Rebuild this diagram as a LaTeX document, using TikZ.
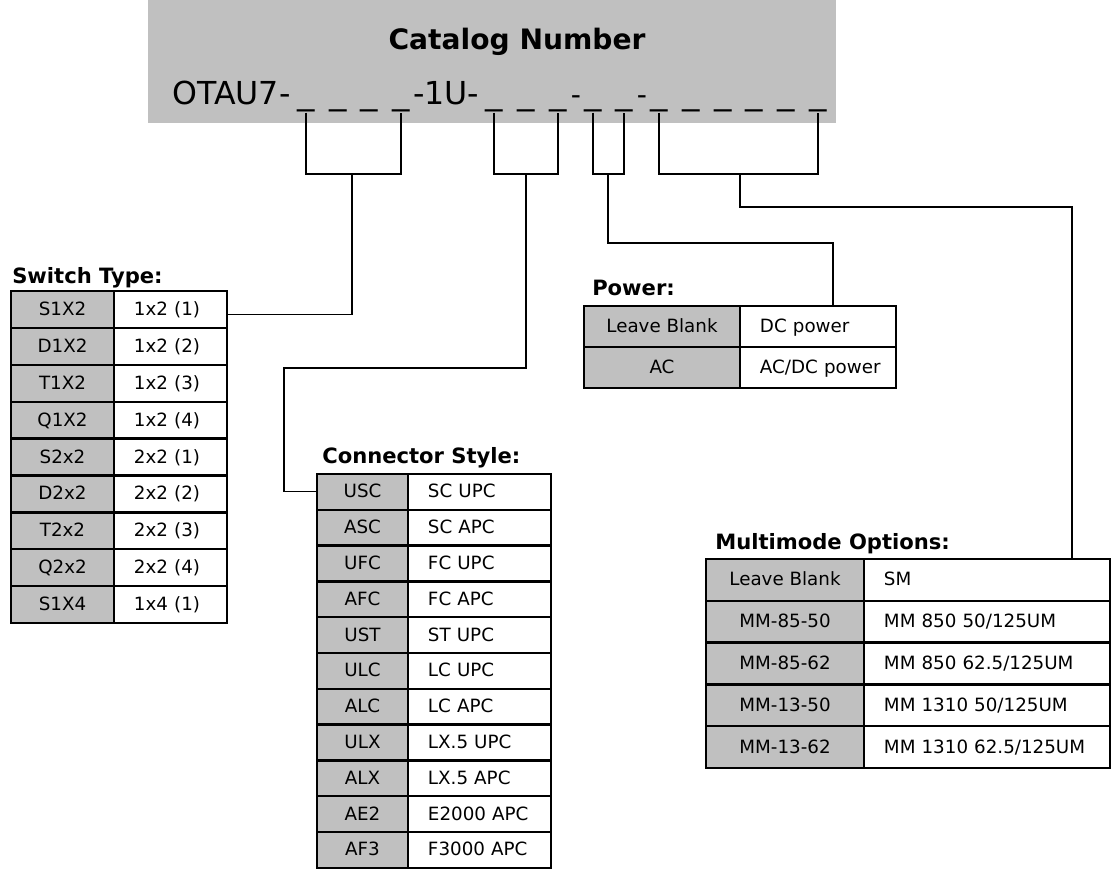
\documentclass[tikz,border=0pt]{standalone}
\usepackage{fontspec}
\usepackage{graphicx}
\setmainfont{DejaVu Sans}
\definecolor{silver}{HTML}{C0C0C0}
\newcommand{\cellfont}{\fontsize{13}{15}\selectfont}
\newcommand{\headfont}{\fontsize{15}{18}\selectfont\bfseries}
\newcommand{\titlefont}{\fontsize{20}{24}\selectfont\bfseries}
\newcommand{\catfont}{\fontsize{22.5}{27}\selectfont}
\newcommand{\dashfont}{\fontsize{20}{24}\selectfont}
\newcommand{\blank}{\scalebox{1.1}[1]{\_}}

\begin{document}
\begin{tikzpicture}[x=0.025cm, y=-0.025cm,
  tbl/.style={draw, line width=1.6pt, inner ysep=0pt, text height=8.5pt, text depth=0pt, font=\cellfont},
  graycell/.style={tbl, fill=silver, inner xsep=0pt},
  whitecell/.style={tbl, fill=white, inner xsep=0.5cm, align=left},
  hdr/.style={anchor=base west, inner sep=0pt, font=\headfont},
  uscore/.style={anchor=base, inner sep=0pt, font=\catfont},
  wire/.style={line width=0.8pt}]

\useasboundingbox (0,0) rectangle (1112,880);

% Catalog number banner
\fill[silver] (148,0) rectangle (836,123);
\node[font=\titlefont, anchor=base] (title) at (517,50) {Catalog Number};
\node[uscore, anchor=base west] (pre) at (172,105) {OTAU7-};
\node[uscore, anchor=base west] (mid) at (413,105) {-1U-};
\node[uscore, font=\dashfont] (h1) at (576,105) {-};
\node[uscore, font=\dashfont] (h2) at (642,105) {-};

% blanks of the number
\foreach \x [count=\i] in {306,338,369,401} \node[uscore] (u\i) at (\x,105) {\blank};
\foreach \x [count=\i] in {494,526,558} \node[uscore] (v\i) at (\x,105) {\blank};
\foreach \x [count=\i] in {593,624} \node[uscore] (p\i) at (\x,105) {\blank};
\foreach \x [count=\i] in {659,691,723,754,786,818} \node[uscore] (m\i) at (\x,105) {\blank};

% Switch Type
\node[hdr] (swhdr) at (12,283) {Switch Type:};
\foreach \a/\b [count=\i] in {S1X2/1x2 (1), D1X2/1x2 (2), T1X2/1x2 (3), Q1X2/1x2 (4),
    S2x2/2x2 (1), D2x2/2x2 (2), T2x2/2x2 (3), Q2x2/2x2 (4), S1X4/1x4 (1)} {
  \node[graycell, minimum width=2.575cm, minimum height=0.9225cm] (swg\i) at (62.5,{291+36.9*(\i-0.5)}) {\a};
  \node[whitecell, text width=1.825cm, minimum height=0.9225cm] (sww\i) at (170.5,{291+36.9*(\i-0.5)}) {\mbox{\b}};
}

% Connector Style
\node[hdr] (cshdr) at (322,463) {Connector Style:};
\foreach \a/\b [count=\i] in {USC/SC UPC, ASC/SC APC, UFC/FC UPC, AFC/FC APC, UST/ST UPC,
    ULC/LC UPC, ALC/LC APC, ULX/LX.5 UPC, ALX/LX.5 APC, AE2/E2000 APC, AF3/F3000 APC} {
  \node[graycell, minimum width=2.275cm, minimum height=0.895cm] (cg\i) at (362.5,{474+35.8*(\i-0.5)}) {\a};
  \node[whitecell, text width=2.575cm, minimum height=0.895cm] (cw\i) at (479.5,{474+35.8*(\i-0.5)}) {\mbox{\b}};
}

% Power
\node[hdr] (pwhdr) at (592,295) {Power:};
\foreach \a/\b [count=\i] in {Leave Blank/DC power, AC/{AC/DC power}} {
  \node[graycell, minimum width=3.9cm, minimum height=1.025cm] (pg\i) at (662,{306+41*(\i-0.5)}) {\a};
  \node[whitecell, text width=2.9cm, minimum height=1.025cm] (pw\i) at (818,{306+41*(\i-0.5)}) {\mbox{\b}};
}

% Multimode Options
\node[hdr] (mmhdr) at (715,549) {Multimode Options:};
\foreach \a/\b [count=\i] in {Leave Blank/SM, MM-85-50/{MM 850 50/125UM}, MM-85-62/{MM 850 62.5/125UM},
    MM-13-50/{MM 1310 50/125UM}, MM-13-62/{MM 1310 62.5/125UM}} {
  \node[graycell, minimum width=3.95cm, minimum height=1.045cm] (mg\i) at (785,{559+41.8*(\i-0.5)}) {\a};
  \node[whitecell, text width=5.15cm, minimum height=1.045cm] (mw\i) at (987,{559+41.8*(\i-0.5)}) {\mbox{\b}};
}

% Brackets and leader lines
\coordinate (b1) at (352,174);
\coordinate (b2) at (526,174);
\coordinate (b3) at (608,174);
\coordinate (b4) at (740,174);
\coordinate (k2) at (284,368);
\coordinate (k3) at (833,243);
\coordinate (k4) at (1072,207);

\draw[wire] (u1.south) |- (b1) -| (u4.south);
\draw[wire] (v1.south) |- (b2) -| (v3.south);
\draw[wire] (p1.south) |- (b3) -| (p2.south);
\draw[wire] (m1.south) |- (b4) -| (m6.south);

\draw[wire] (b1) |- ([yshift=-0.13cm]sww1.east);
\draw[wire] (b2) |- (k2) |- (cg1.west);
\draw[wire] (b3) |- (k3) -- (k3 |- pw1.north);
\draw[wire] (b4) |- (k4) -- (k4 |- mw1.north);

\end{tikzpicture}
\end{document}
